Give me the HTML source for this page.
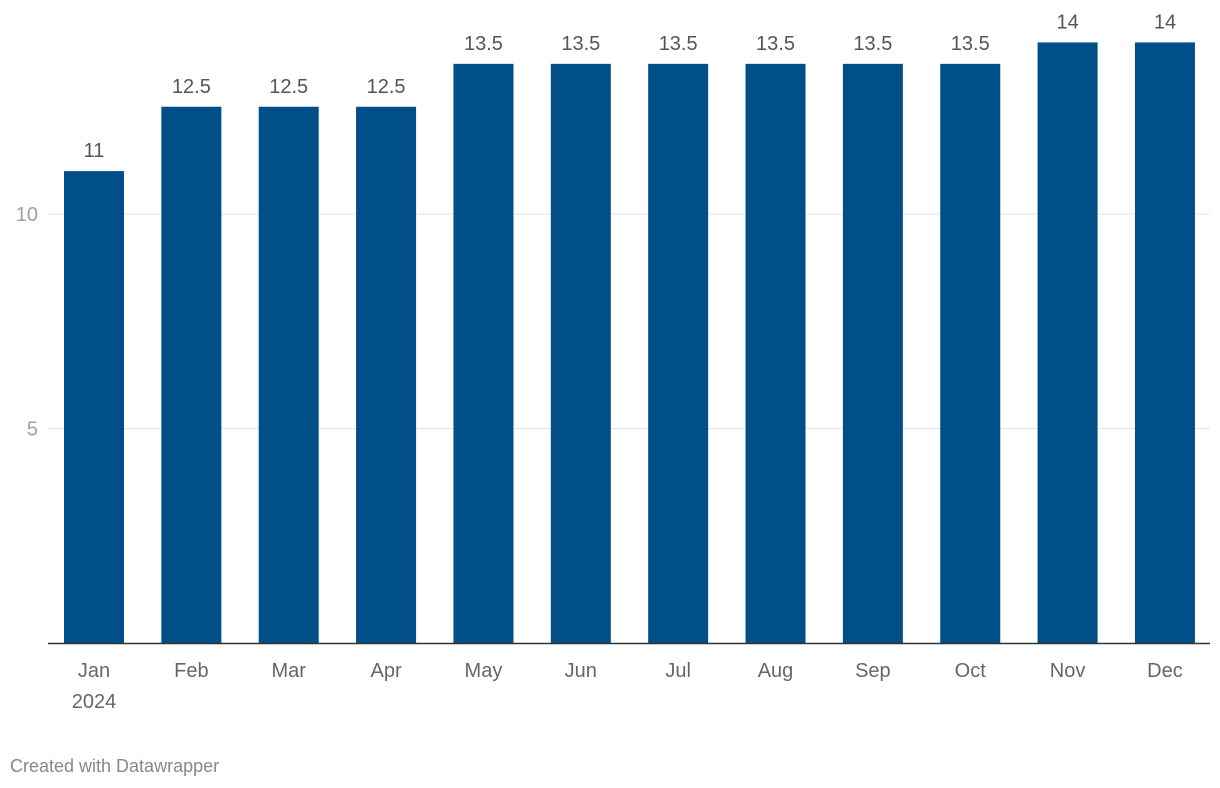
<!DOCTYPE html>
<html><head><meta charset="utf-8">
<style>
html,body{margin:0;padding:0;background:#fff;width:1220px;height:788px;overflow:hidden;font-family:"Liberation Sans",Arial,sans-serif;}
svg{display:block}
</style></head>
<body>
<svg id="chart" width="1220" height="788" xmlns="http://www.w3.org/2000/svg"></svg>
<script>
const categories=["Jan","Feb","Mar","Apr","May","Jun","Jul","Aug","Sep","Oct","Nov","Dec"];
const values=[11,12.5,12.5,12.5,13.5,13.5,13.5,13.5,13.5,13.5,14,14];
const yTicks=[5,10];
const valueLabels=["11","12.5","12.5","12.5","13.5","13.5","13.5","13.5","13.5","13.5","14","14"];

const svg=document.getElementById('chart');
const NS="http://www.w3.org/2000/svg";
const baseY=643, unit=42.9, x0=94, step=97.36, barW=60;
const y=v=>baseY-v*unit;
const xc=i=>x0+i*step;
function mk(tag,attrs,txt){const e=document.createElementNS(NS,tag);for(const k in attrs)e.setAttribute(k,attrs[k]);if(txt!==undefined)e.textContent=txt;svg.appendChild(e);return e;}

yTicks.forEach(t=>{
  const g=mk('line',{x1:48,x2:1210,y1:y(t),y2:y(t),stroke:'#e3e3e3','stroke-width':1});
  
  
  const l=mk('text',{x:38,y:y(t)+7,'text-anchor':'end','font-size':20,fill:'#a0a0a0'},String(t));
  
  
});

values.forEach((v,i)=>{
  const r=mk('rect',{x:xc(i)-barW/2,y:y(v),width:barW,height:v*unit,fill:'#004f89'});
  
  
  const t=mk('text',{x:xc(i),y:y(v)-14,'text-anchor':'middle','font-size':20,fill:'#555'},valueLabels[i]);
  
  
  const c=mk('text',{x:xc(i),y:677,'text-anchor':'middle','font-size':20,fill:'#666'},categories[i]);
  
  
});
const yr=mk('text',{x:xc(0),y:708,'text-anchor':'middle','font-size':20,fill:'#666'},"2024");



const ax=mk('line',{x1:48,x2:1210,y1:baseY+0.5,y2:baseY+0.5,stroke:'#333','stroke-width':1.5});



const f=mk('text',{x:10,y:772,'font-size':18,fill:'#888'},"Created with Datawrapper");


</script>
</body></html>
